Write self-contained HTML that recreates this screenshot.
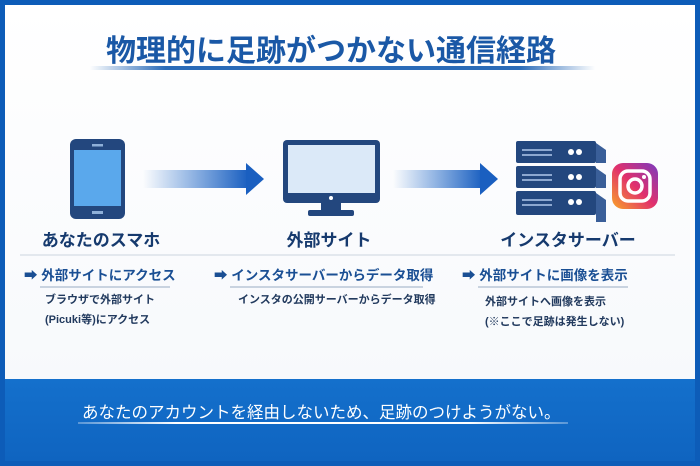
<!DOCTYPE html>
<html><head><meta charset="utf-8"><style>
body{margin:0;width:700px;height:466px;overflow:hidden;background:#0d5cb8;font-family:"Liberation Sans","Noto Sans CJK JP",sans-serif;position:relative}
.a{position:absolute;white-space:nowrap}
#panel{position:absolute;left:5px;top:5px;width:690px;height:374px;background:linear-gradient(#fff,#f7f9fc)}
#band{position:absolute;left:5px;top:379px;width:690px;height:82px;background:linear-gradient(#1470cc,#0f64c0)}
.lbl{font-size:17px;font-weight:bold;color:#163a6e;transform:translateX(-50%)}
.bul{font-size:13.5px;font-weight:bold;color:#1a4f94}
.sub{font-size:11px;font-weight:bold;color:#223a5e;line-height:20px}
.ul{position:absolute;height:2px;background:#c9d3e0}
</style></head><body>
<div id="panel"></div>
<div id="band"></div>
<div class="a" style="left:0;width:662px;top:26px;text-align:center;font-size:30px;font-weight:bold;color:#1a58a6">物理的に足跡がつかない通信経路</div>
<div class="a" style="left:90px;top:66px;width:505px;height:4px;background:linear-gradient(90deg,rgba(26,88,166,0),#2a6bb8 15%,#2a6bb8 85%,rgba(26,88,166,0))"></div>
<svg class="a" style="left:0;top:0" width="700" height="240">
<defs><linearGradient id="g" x1="0" x2="1"><stop offset="0" stop-color="#1a66c8" stop-opacity="0"/><stop offset="1" stop-color="#1a5fc0"/></linearGradient>
<linearGradient id="ig" x1="0" y1="1" x2="1" y2="0"><stop offset="0" stop-color="#f9a428"/><stop offset=".5" stop-color="#e1306c"/><stop offset="1" stop-color="#7a3ac0"/></linearGradient></defs>
<rect x="70" y="139" width="55" height="80" rx="6" fill="#23477e"/>
<rect x="74" y="150" width="47" height="56" fill="#5aa8ec"/>
<rect x="92" y="144" width="11" height="2.5" fill="#8fb0d8"/><rect x="92" y="211" width="11" height="3" fill="#8fb0d8"/>
<rect x="143" y="170" width="105" height="18" fill="url(#g)"/><polygon points="246,163 264,179 246,195" fill="#1a5fc0"/>
<rect x="283" y="140" width="97" height="63" rx="4" fill="#23477e"/>
<rect x="288" y="145" width="87" height="48" fill="#dbe9f8"/>
<circle cx="331" cy="198" r="2" fill="#fff"/>
<rect x="321" y="203" width="20" height="8" fill="#23477e"/><rect x="308" y="210" width="46" height="6" rx="2" fill="#23477e"/>
<rect x="393" y="170" width="90" height="18" fill="url(#g)"/><polygon points="480,163 498,179 480,195" fill="#1a5fc0"/>
<g fill="#23477e"><rect x="516" y="141" width="80" height="22" rx="2"/><rect x="516" y="166" width="80" height="22" rx="2"/><rect x="516" y="191" width="80" height="24" rx="2"/></g>
<g fill="#3a5f99"><polygon points="596,143 606,150 606,163 596,163"/><polygon points="596,168 606,175 606,188 596,188"/><polygon points="596,193 606,200 606,222 596,222"/></g>
<g fill="#8da8d0"><rect x="522" y="149" width="30" height="2"/><rect x="522" y="154" width="30" height="2"/><rect x="522" y="174" width="30" height="2"/><rect x="522" y="179" width="30" height="2"/><rect x="522" y="199" width="30" height="2"/><rect x="522" y="204" width="30" height="2"/></g>
<g fill="#fff"><circle cx="571" cy="152" r="3"/><circle cx="579" cy="152" r="3"/><circle cx="571" cy="177" r="3"/><circle cx="579" cy="177" r="3"/><circle cx="571" cy="202" r="3"/><circle cx="579" cy="202" r="3"/></g>
<rect x="612" y="163" width="46" height="46" rx="11" fill="url(#ig)"/>
<rect x="620" y="171" width="30" height="30" rx="8" fill="none" stroke="#fff" stroke-width="3.5"/>
<circle cx="635" cy="186" r="7" fill="none" stroke="#fff" stroke-width="3.5"/><circle cx="644" cy="177" r="2" fill="#fff"/>
</svg>
<div class="a lbl" style="left:101px;top:226px">あなたのスマホ</div>
<div class="a lbl" style="left:329px;top:226px">外部サイト</div>
<div class="a lbl" style="left:568px;top:226px">インスタサーバー</div>
<div class="ul" style="left:20px;top:254px;width:655px;background:#e3e8ee"></div>
<div class="a bul" style="left:24px;top:264px">➡ 外部サイトにアクセス</div>
<div class="ul" style="left:40px;top:286px;width:130px"></div>
<div class="a sub" style="left:45px;top:290px">ブラウザで外部サイト<br>(Picuki等)にアクセス</div>
<div class="a bul" style="left:214px;top:264px">➡ インスタサーバーからデータ取得</div>
<div class="ul" style="left:230px;top:286px;width:193px"></div>
<div class="a sub" style="left:238px;top:290px">インスタの公開サーバーからデータ取得</div>
<div class="a bul" style="left:462px;top:264px">➡ 外部サイトに画像を表示</div>
<div class="ul" style="left:478px;top:286px;width:150px"></div>
<div class="a sub" style="left:485px;top:292px">外部サイトへ画像を表示<br>(※ここで足跡は発生しない)</div>
<div class="a" style="left:82px;top:399px;font-size:16.5px;color:#fff">あなたのアカウントを経由しないため、足跡のつけようがない。</div>
<div class="a" style="left:78px;top:422px;width:490px;height:2px;background:linear-gradient(90deg,rgba(255,255,255,.3),#fff 20%,#fff 80%,rgba(255,255,255,.3))"></div>
</body></html>
